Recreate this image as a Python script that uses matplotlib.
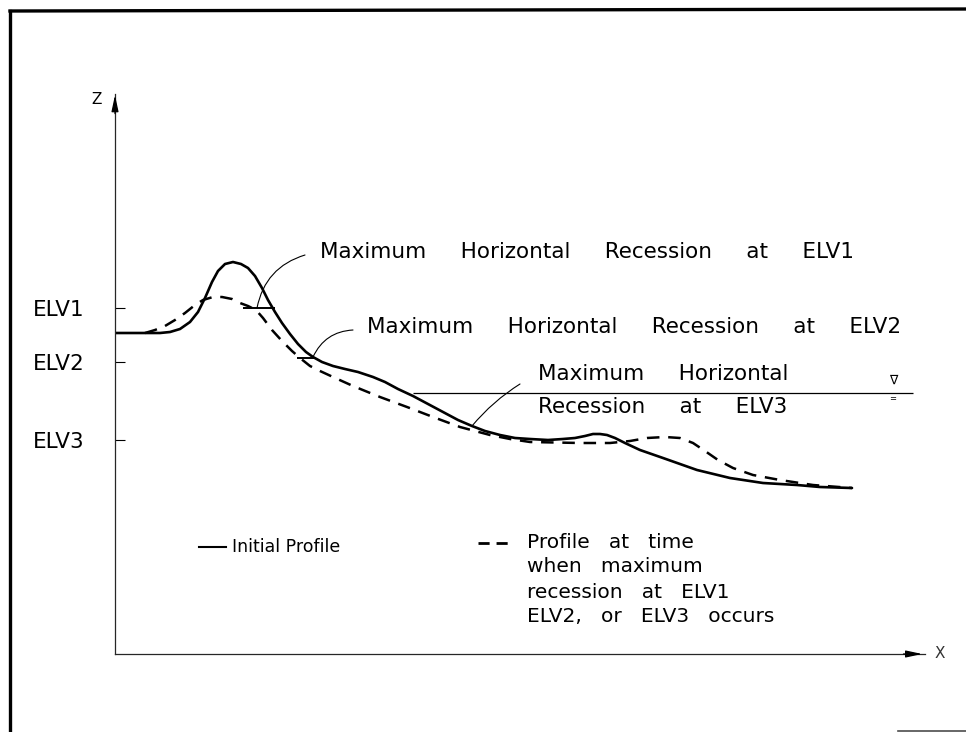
import numpy as np
import matplotlib
matplotlib.use("Agg")
import matplotlib.pyplot as plt
from matplotlib.lines import Line2D

# profile data (x = distance, z = elevation)
x_init = [0, 4.5, 5.5, 6.5, 7.5, 8.3, 9.0, 9.7, 10.3, 11.0, 11.8, 12.6, 13.3, 14.0, 14.7,
          15.3, 16.0, 16.7, 17.5, 18.3, 19.1, 19.8, 20.7, 21.8, 23.0, 24.3, 25.8, 27.0,
          28.3, 29.8, 31.3, 32.8, 34.3, 35.7, 37.0, 38.5, 40.0, 41.5, 43.3, 44.8, 46.0,
          47.0, 47.8, 48.5, 49.2, 50.0, 51.0, 52.5, 54.8, 58.2, 61.5, 64.8, 68.2, 70.5, 73.7]
z_init = [32.1, 32.1, 32.2, 32.5, 33.2, 34.2, 35.6, 37.2, 38.3, 39.0, 39.2, 39.0, 38.6, 37.8,
          36.6, 35.4, 34.2, 33.1, 32.0, 31.0, 30.2, 29.7, 29.2, 28.8, 28.5, 28.2, 27.7, 27.2,
          26.5, 25.8, 25.0, 24.2, 23.4, 22.8, 22.3, 21.9, 21.6, 21.5, 21.4, 21.5, 21.6,
          21.8, 22.0, 22.0, 21.9, 21.6, 21.1, 20.4, 19.6, 18.4, 17.6, 17.1, 16.9, 16.7, 16.6]

x_max = [3.0, 4.0, 5.0, 6.0, 7.0, 8.0, 8.8, 9.8, 10.7, 11.7, 12.5, 13.3, 14.1, 14.8, 15.7,
         16.7, 17.7, 18.5, 19.5, 20.5, 21.8, 23.8, 26.5, 29.2, 31.8, 34.5, 37.5, 39.5, 41.5,
         46.5, 49.5, 51.5, 53.2, 55.0, 56.5, 57.8, 59.0, 60.3, 61.8, 63.8, 66.5, 69.8, 73.7]
z_max = [32.1, 32.4, 32.8, 33.4, 34.1, 34.9, 35.4, 35.7, 35.7, 35.5, 35.1, 34.8, 34.4, 33.6,
         32.4, 31.3, 30.3, 29.6, 28.8, 28.3, 27.7, 26.8, 25.7, 24.7, 23.7, 22.7, 21.9, 21.5,
         21.2, 21.1, 21.1, 21.3, 21.6, 21.7, 21.6, 21.1, 20.3, 19.4, 18.6, 17.9, 17.4, 16.9, 16.6]

elv_names = ["ELV1", "ELV2", "ELV3"]
elv_z = [34.6, 29.2, 21.4]

# horizontal recession segments at ELV1 / ELV2
rec_z = [34.6, 29.6]
rec_x0 = [12.8, 18.2]
rec_x1 = [16.0, 19.9]

water_z = 26.1
water_x = [29.8, 79.8]

# leader lines: (point on profile) -> (near label)
lead_from = [(14.2, 34.6), (19.8, 29.7), (35.7, 22.8)]
lead_to = [(19.0, 39.9), (23.8, 32.4), (40.5, 27.0)]
lead_rad = [0.3, 0.3, 0.08]

gap = " " * 5
notes = [gap.join(["Maximum", "Horizontal", "Recession", "at", "ELV1"]),
         gap.join(["Maximum", "Horizontal", "Recession", "at", "ELV2"]),
         gap.join(["Maximum", "Horizontal"]),
         gap.join(["Recession", "at", "ELV3"])]
note_x = [20.5, 25.2, 42.3, 42.3]
note_z = [40.2, 32.7, 28.0, 24.7]

g2 = " " * 3
leg_lines = [g2.join(["Profile", "at", "time"]), g2.join(["when", "maximum"]),
             g2.join(["recession", "at", "ELV1"]), g2.join(["ELV2,", "or", "ELV3", "occurs"])]

W, H = 966, 732
fig = plt.figure(figsize=(W / 100, H / 100), dpi=100)
plt.rcParams['font.family'] = ['DejaVu Sans']

# outer frame of the scanned figure
fig.add_artist(Line2D([10 / W, 10 / W], [0, 1 - 11 / H], color='k', lw=2.4,
                      transform=fig.transFigure))
fig.add_artist(Line2D([10 / W, 1], [1 - 11 / H, 1 - 9 / H], color='k', lw=2.4,
                      transform=fig.transFigure))
fig.add_artist(Line2D([898 / W, 1], [1 / H, 1 / H], color='0.3', lw=1.2,
                      transform=fig.transFigure))

ax = fig.add_axes([115 / W, (H - 654) / H, 810 / W, 560 / H])
ax.set_xlim(0, 81)
ax.set_ylim(0, 56)
for s in ['top', 'right']:
    ax.spines[s].set_visible(False)
for s in ['left', 'bottom']:
    ax.spines[s].set_linewidth(0.9)
    ax.spines[s].set_color('0.15')
ax.set_xticks([])
ax.set_yticks(elv_z)
ax.set_yticklabels(elv_names, fontsize=15.5)
ax.tick_params(axis='y', direction='in', length=7, width=0.8, pad=22)

# axis arrows
ax.annotate('', xy=(1, 0), xytext=(0.97, 0), xycoords='axes fraction',
            arrowprops=dict(arrowstyle='-|>,head_length=0.7,head_width=0.15',
                            color='k', lw=0.9, mutation_scale=14), annotation_clip=False)
ax.annotate('', xy=(0, 1.003), xytext=(0, 0.96), xycoords='axes fraction',
            arrowprops=dict(arrowstyle='-|>,head_length=0.7,head_width=0.15',
                            color='k', lw=0.9, mutation_scale=14), annotation_clip=False)
ax.text(-0.016, 0.99, 'Z', transform=ax.transAxes, ha='right', va='center', fontsize=11)
ax.text(1.012, 0.0, 'X', transform=ax.transAxes, ha='left', va='center', fontsize=11,
        color='0.2')

# profiles
ax.plot(x_init, z_init, color='k', lw=1.9, solid_joinstyle='round', solid_capstyle='round')
ax.plot(x_max, z_max, color='k', lw=1.8, dashes=(5, 3.5), dash_joinstyle='round')

# recession markers
ax.hlines(rec_z, rec_x0, rec_x1, color='k', lw=1.4)
ax.hlines(water_z, water_x[0], water_x[1], color='k', lw=0.9)
ax.text(77.8, 27.4, '\u2207', ha='center', va='center', fontsize=9)
ax.text(77.8, 25.5, '=', ha='center', va='center', fontsize=6)

for p, q, r in zip(lead_from, lead_to, lead_rad):
    ax.annotate('', xy=p, xytext=q,
                arrowprops=dict(arrowstyle='-', color='k', lw=0.8,
                                connectionstyle='arc3,rad=%.2f' % r,
                                shrinkA=0, shrinkB=0))

for t, xx, zz in zip(notes, note_x, note_z):
    ax.text(xx, zz, t, ha='left', va='center', fontsize=15.5)

# legend (hand placed, as in the sketch)
ax.plot([8.4, 11.1], [10.7, 10.7], color='k', lw=1.5)
ax.text(11.7, 10.7, 'Initial Profile', ha='left', va='center', fontsize=12.5)
ax.plot([36.3, 39.7], [11.1, 11.1], color='k', lw=2.0, dashes=(4, 2.5))
for i, t in enumerate(leg_lines):
    ax.text(41.2, 11.2 - 2.5 * i, t, ha='left', va='center', fontsize=14.5)

fig.savefig('out.png', dpi=100)
